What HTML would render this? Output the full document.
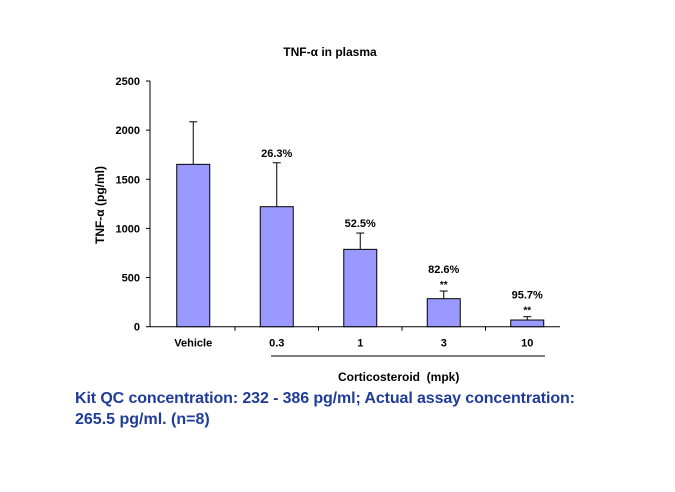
<!DOCTYPE html>
<html><head><meta charset="utf-8"><style>
html,body{margin:0;padding:0;background:#fff;}
svg{display:block;font-family:"Liberation Sans",Arial,sans-serif;}
</style></head><body>
<svg id="chart" width="675" height="492" viewBox="0 0 675 492">
<text x="330" y="56" text-anchor="middle" font-size="12" font-weight="bold">TNF-α in plasma</text>
<text transform="translate(104,205) rotate(-90)" text-anchor="middle" font-size="12" font-weight="bold">TNF-α (pg/ml)</text>
<g id="axes"></g>
<g id="bars"></g>
<line x1="271" y1="356" x2="545" y2="356" stroke="#000" stroke-width="1"/>
<text x="338" y="381" font-size="12" font-weight="bold" xml:space="preserve">Corticosteroid  (mpk)</text>
<text x="75" y="403" font-size="16" font-weight="bold" fill="#1f3c98" textLength="500">Kit QC concentration: 232 - 386 pg/ml; Actual assay concentration:</text>
<text x="75" y="424" font-size="16" font-weight="bold" fill="#1f3c98">265.5 pg/ml. (n=8)</text>
</svg>
<script>
const categories = ["Vehicle","0.3","1","3","10"];
const means = [1652,1221,787,285,68];
const errors = [433,447,166,78,34];
const annotations = ["","26.3%","52.5%","82.6%","95.7%"];
const stars = ["","","","**","**"];
const yTicks = [0,500,1000,1500,2000,2500];

const NS="http://www.w3.org/2000/svg";
const x0=150, bandStart=151.5, bandW=83.5, y0=326.7, yTop=81, yMax=2500;
const xEnd=560;
const yScale=v=>y0-(v/yMax)*(y0-yTop);
const xCenter=i=>bandStart+bandW*(i+0.5);
function mk(tag,attrs,parent){const e=document.createElementNS(NS,tag);for(const k in attrs)e.setAttribute(k,attrs[k]);parent.appendChild(e);return e;}
const axes=document.getElementById('axes'), bars=document.getElementById('bars');

let a=mk('line',{x1:x0,y1:y0,x2:x0,y2:yTop,stroke:'#000'},axes);


a=mk('line',{x1:x0,y1:y0,x2:xEnd,y2:y0,stroke:'#000'},axes);


yTicks.forEach(t=>{
  const y=yScale(t);
  mk('line',{x1:x0-4,y1:y,x2:x0,y2:y,stroke:'#000'},axes);
  const tx=mk('text',{x:x0-10,y:y+4,'text-anchor':'end','font-size':11,'font-weight':'bold'},axes);
  tx.textContent=t;
  
  
});
for(let i=1;i<categories.length;i++){
  const x=bandStart+bandW*i;
  mk('line',{x1:x,y1:y0,x2:x,y2:y0+4,stroke:'#000'},axes);
}
categories.forEach((c,i)=>{
  const cx=xCenter(i), w=33;
  const ty=yScale(means[i]), ey=yScale(means[i]+errors[i]);
  const el=mk('line',{x1:cx,y1:ty,x2:cx,y2:ey,stroke:'#000'},bars);
  
  
  mk('line',{x1:cx-4,y1:ey,x2:cx+4,y2:ey,stroke:'#000'},bars);
  const r=mk('rect',{x:cx-w/2,y:ty,width:w,height:y0-ty,fill:'#9999ff',stroke:'#000','stroke-width':1},bars);
  
  
  const lb=mk('text',{x:cx,y:y0+20,'text-anchor':'middle','font-size':11,'font-weight':'bold'},bars);
  lb.textContent=c;
  
  
  if(annotations[i]){
    const off=stars[i]?18:6;
    const an=mk('text',{x:cx,y:ey-off,'text-anchor':'middle','font-size':11,'font-weight':'bold'},bars);
    an.textContent=annotations[i];
    
    
  }
  if(stars[i]){
    const st=mk('text',{x:cx,y:ey-3,'text-anchor':'middle','font-size':10,'font-weight':'bold'},bars);
    st.textContent=stars[i];
    
    
  }
});
</script>
</body></html>
